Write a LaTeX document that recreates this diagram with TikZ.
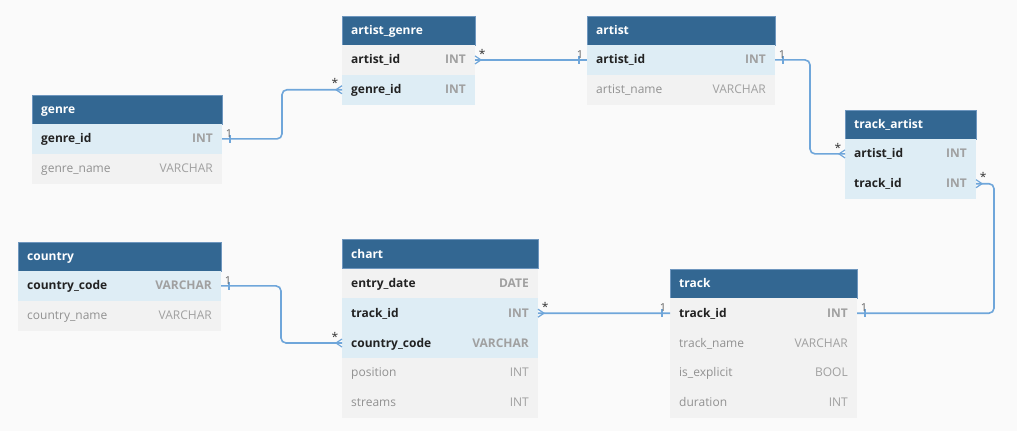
\documentclass[tikz,border=0pt]{standalone}
\usepackage{fontspec}
\setmainfont{Open Sans}
\usetikzlibrary{positioning,decorations.markings}
\definecolor{hdrblue}{RGB}{51,103,146}
\definecolor{hdrline}{RGB}{110,150,190}
\definecolor{rowblue}{RGB}{222,237,245}
\definecolor{rowgray}{RGB}{242,242,242}
\definecolor{bgcol}{RGB}{250,250,250}
\definecolor{linkblue}{RGB}{111,166,218}
\definecolor{keytext}{RGB}{34,34,34}
\definecolor{typetext}{RGB}{160,160,160}
\definecolor{plaintext}{RGB}{145,145,145}

\begin{document}
\begin{tikzpicture}[
        x=1pt, y=-1pt,
        font=\fontsize{12}{14}\selectfont
    ]
    \tikzset{
        hdr/.style = {rectangle, fill=hdrblue, draw=hdrline, line width=0.8, anchor=north west, minimum height=29, inner sep=0, outer sep=0},
        rowb/.style = {rectangle, fill=rowblue, minimum height=29.8, inner sep=0, outer sep=0},
        rowg/.style = {rectangle, fill=rowgray, minimum height=29.8, inner sep=0, outer sep=0},
        hdtxt/.style = {anchor=base west, xshift=9, yshift=-4, inner sep=0, text=white, font=\fontsize{12}{14}\selectfont\bfseries},
        keyname/.style = {anchor=base west, xshift=9, yshift=-4, inner sep=0, text=keytext, font=\fontsize{12}{14}\selectfont\bfseries},
        keytype/.style = {anchor=base east, xshift=-9, yshift=-4, inner sep=0, text=typetext, font=\fontsize{12}{14}\selectfont\bfseries},
        plainname/.style = {anchor=base west, xshift=9, yshift=-4, inner sep=0, text=plaintext},
        plaintype/.style = {anchor=base east, xshift=-9, yshift=-4, inner sep=0, text=typetext},
        conn/.style = {draw=linkblue, line width=1.6, rounded corners=5},
        card1/.style = {inner sep=1, text=black!60, font=\fontsize{11}{12}\selectfont},
        cardm/.style = {inner sep=1, text=black!80, font=\fontsize{12}{12}\selectfont},
        onestart/.style = {postaction={decorate, decoration={markings, mark=at position 8pt with {\draw[linkblue, line width=1.2, sharp corners] (0,-4pt) -- (0,4pt);}}}},
        oneend/.style = {postaction={decorate, decoration={markings, mark=at position -8pt with {\draw[linkblue, line width=1.2, sharp corners] (0,-4pt) -- (0,4pt);}}}},
        manystart/.style = {postaction={decorate, decoration={markings, mark=at position 6pt with {\draw[linkblue, line width=1.2, sharp corners] (-6pt,4pt) -- (0,0) -- (-6pt,-4pt);}}}},
        manyend/.style = {postaction={decorate, decoration={markings, mark=at position -6pt with {\draw[linkblue, line width=1.2, sharp corners] (6pt,4pt) -- (0,0) -- (6pt,-4pt);}}}},
    }
    \fill[bgcol] (0,0) rectangle (1017,431);
    \useasboundingbox (0,0) rectangle (1017,431);
    % artist_genre
    \node[hdr, minimum width=133, label={[hdtxt]west:artist\_genre}] (ag) at (342,16) {};
    \node[rowg, minimum width=133, below=0pt of ag, label={[keyname]west:artist\_id}, label={[keytype]east:INT}] (ag1) {};
    \node[rowb, minimum width=133, below=0pt of ag1, label={[keyname]west:genre\_id}, label={[keytype]east:INT}] (ag2) {};
    % artist
    \node[hdr, minimum width=188, label={[hdtxt]west:artist}] (ar) at (587,16) {};
    \node[rowb, minimum width=188, below=0pt of ar, label={[keyname]west:artist\_id}, label={[keytype]east:INT}] (ar1) {};
    \node[rowg, minimum width=188, below=0pt of ar1, label={[plainname]west:artist\_name}, label={[plaintype]east:VARCHAR}] (ar2) {};
    % genre
    \node[hdr, minimum width=190, label={[hdtxt]west:genre}] (ge) at (32,95) {};
    \node[rowb, minimum width=190, below=0pt of ge, label={[keyname]west:genre\_id}, label={[keytype]east:INT}] (ge1) {};
    \node[rowg, minimum width=190, below=0pt of ge1, label={[plainname]west:genre\_name}, label={[plaintype]east:VARCHAR}] (ge2) {};
    % track_artist
    \node[hdr, minimum width=131, label={[hdtxt]west:track\_artist}] (ta) at (845,110) {};
    \node[rowb, minimum width=131, below=0pt of ta, label={[keyname]west:artist\_id}, label={[keytype]east:INT}] (ta1) {};
    \node[rowb, minimum width=131, below=0pt of ta1, label={[keyname]west:track\_id}, label={[keytype]east:INT}] (ta2) {};
    % country
    \node[hdr, minimum width=203, label={[hdtxt]west:country}] (co) at (18,242) {};
    \node[rowb, minimum width=203, below=0pt of co, label={[keyname]west:country\_code}, label={[keytype]east:VARCHAR}] (co1) {};
    \node[rowg, minimum width=203, below=0pt of co1, label={[plainname]west:country\_name}, label={[plaintype]east:VARCHAR}] (co2) {};
    % chart
    \node[hdr, minimum width=196, label={[hdtxt]west:chart}] (ch) at (342,239.5) {};
    \node[rowg, minimum width=196, below=0pt of ch, label={[keyname]west:entry\_date}, label={[keytype]east:DATE}] (ch1) {};
    \node[rowb, minimum width=196, below=0pt of ch1, label={[keyname]west:track\_id}, label={[keytype]east:INT}] (ch2) {};
    \node[rowb, minimum width=196, below=0pt of ch2, label={[keyname]west:country\_code}, label={[keytype]east:VARCHAR}] (ch3) {};
    \node[rowg, minimum width=196, below=0pt of ch3, label={[plainname]west:position}, label={[plaintype]east:INT}] (ch4) {};
    \node[rowg, minimum width=196, below=0pt of ch4, label={[plainname]west:streams}, label={[plaintype]east:INT}] (ch5) {};
    % track
    \node[hdr, minimum width=187, label={[hdtxt]west:track}] (tr) at (670,269.3) {};
    \node[rowg, minimum width=187, below=0pt of tr, label={[keyname]west:track\_id}, label={[keytype]east:INT}] (tr1) {};
    \node[rowg, minimum width=187, below=0pt of tr1, label={[plainname]west:track\_name}, label={[plaintype]east:VARCHAR}] (tr2) {};
    \node[rowg, minimum width=187, below=0pt of tr2, label={[plainname]west:is\_explicit}, label={[plaintype]east:BOOL}] (tr3) {};
    \node[rowg, minimum width=187, below=0pt of tr3, label={[plainname]west:duration}, label={[plaintype]east:INT}] (tr4) {};
    %
    \draw[conn, onestart, manyend] (ge1.east) node[card1, above right, xshift=2] {1} -- ++(60,0) |- (ag2.west) node[cardm, above left, xshift=-2] {*};
    \draw[conn, manystart, oneend] (ag1.east) node[cardm, above right, xshift=2] {*} -- (ar1.west) node[card1, above left, xshift=-2] {1};
    \draw[conn, onestart, manyend] (ar1.east) node[card1, above right, xshift=2] {1} -- ++(35,0) |- (ta1.west) node[cardm, above left, xshift=-2] {*};
    \draw[conn, manystart, oneend] (ta2.east) node[cardm, above right, xshift=2] {*} -- ++(18,0) |- (tr1.east) node[card1, above right, xshift=2] {1};
    \draw[conn, onestart, manyend] (co1.east) node[card1, above right, xshift=2] {1} -- ++(60,0) |- (ch3.west) node[cardm, above left, xshift=-2] {*};
    \draw[conn, manystart, oneend] (ch2.east) node[cardm, above right, xshift=2] {*} -- (tr1.west) node[card1, above left, xshift=-2] {1};
\end{tikzpicture}
\end{document}
